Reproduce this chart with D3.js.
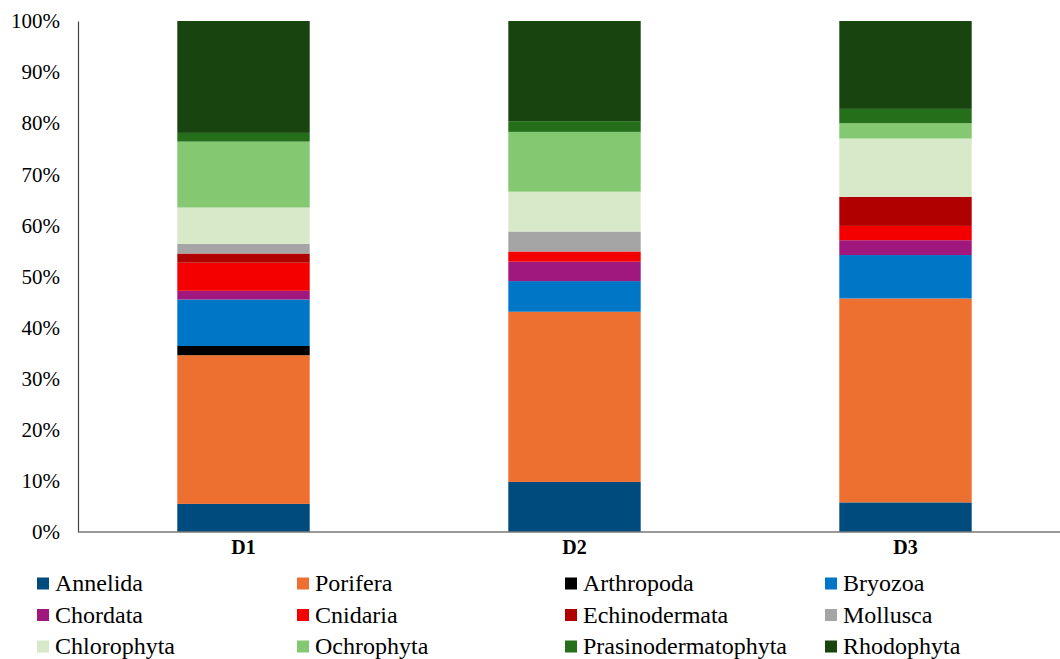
<!DOCTYPE html>
<html>
<head>
<meta charset="utf-8">
<script src="https://cdn.jsdelivr.net/npm/d3@7/dist/d3.min.js"></script>
<style>
  html, body { margin: 0; padding: 0; background: #fff; }
  svg text { font-family: "Liberation Serif", "Times New Roman", Tinos, "DejaVu Serif", serif !important; }
</style>
</head>
<body>
<svg id="chart" width="1060" height="659"></svg>
<script>
// Sites along the x axis
const sites = ["D1", "D2", "D3"];

// Phyla, in stacking order from the bottom
const phyla = ["Annelida", "Porifera", "Arthropoda", "Bryozoa", "Chordata", "Cnidaria",
               "Echinodermata", "Mollusca", "Chlorophyta", "Ochrophyta",
               "Prasinodermatophyta", "Rhodophyta"];

// Relative abundance (%) per phylum, one value per site
const annelida       = [5.5, 9.8, 5.8];
const porifera       = [29.1, 33.3, 39.9];
const arthropoda     = [1.8, 0.0, 0.0];
const bryozoa        = [9.1, 6.0, 8.5];
const chordata       = [1.7, 3.8, 2.9];
const cnidaria       = [5.5, 2.0, 2.8];
const echinodermata  = [1.8, 0.0, 5.7];
const mollusca       = [1.9, 3.9, 0.0];
const chlorophyta    = [7.1, 7.8, 11.4];
const ochrophyta     = [12.9, 11.7, 3.0];
const prasinodermatophyta = [1.7, 2.1, 2.8];
const rhodophyta     = [21.9, 19.6, 17.2];

const yTicks = [0, 10, 20, 30, 40, 50, 60, 70, 80, 90, 100];

const seriesValues = [annelida, porifera, arthropoda, bryozoa, chordata, cnidaria,
                      echinodermata, mollusca, chlorophyta, ochrophyta,
                      prasinodermatophyta, rhodophyta];

const colors = ["#004b7d", "#ed7030", "#000000", "#0077c6", "#a0177e", "#f40000",
                "#b00000", "#a5a5a5", "#d7e9c9", "#84c872", "#256e1a", "#18450f"];

// Build rows: one per site, with each phylum as a column
const rows = sites.map((s, i) => {
  const r = { site: s };
  phyla.forEach((p, j) => { r[p] = seriesValues[j][i]; });
  return r;
});

const svg = d3.select("#chart");

const x = d3.scaleBand().domain(sites).range([78, 1071])
  .paddingInner(0.6).paddingOuter(0.3);
const y = d3.scaleLinear().domain([0, 100]).range([532, 21]);
const color = d3.scaleOrdinal().domain(phyla).range(colors);

const stacked = d3.stack().keys(phyla)
  .offset(d3.stackOffsetExpand)(rows);

// Stacked bars
svg.append("g").selectAll("g").data(stacked).join("g")
  .attr("fill", d => color(d.key))
  .selectAll("rect").data(d => d).join("rect")
  .attr("x", d => x(d.data.site))
  .attr("width", x.bandwidth())
  .attr("y", d => y(d[1] * 100))
  .attr("height", d => y(d[0] * 100) - y(d[1] * 100));

// Y axis
const yAxis = d3.axisLeft(y).tickValues(yTicks).tickFormat(d => d + "%")
  .tickSize(0).tickPadding(18);
const gy = svg.append("g").attr("transform", "translate(78,0)").call(yAxis);
gy.select(".domain").attr("stroke", "#444").attr("stroke-width", 1.2);
gy.selectAll("text").attr("font-size", 21).attr("fill", "#000");

// X axis
const xAxis = d3.axisBottom(x).tickSize(0).tickPadding(8);
const gx = svg.append("g").attr("transform", "translate(0,532)").call(xAxis);
gx.select(".domain").attr("d", "M78,0H1060").attr("stroke", "#777").attr("stroke-width", 1.5);
gx.selectAll("text").attr("font-size", 20).attr("font-weight", "bold").attr("fill", "#000");

// Legend: 4 columns x 3 rows
const legendCols = [37, 297, 565, 825];
const legendRows = [583.5, 615, 646.5];
const legend = svg.append("g").selectAll("g").data(phyla).join("g")
  .attr("transform", (d, i) => `translate(${legendCols[i % 4]},${legendRows[Math.floor(i / 4)]})`);
legend.append("rect").attr("x", 0).attr("y", -6).attr("width", 12).attr("height", 12)
  .attr("fill", d => color(d));
legend.append("text").attr("x", 18).attr("y", 0).attr("dy", "0.33em")
  .attr("font-size", 24).attr("fill", "#000").text(d => d);
</script>
</body>
</html>
